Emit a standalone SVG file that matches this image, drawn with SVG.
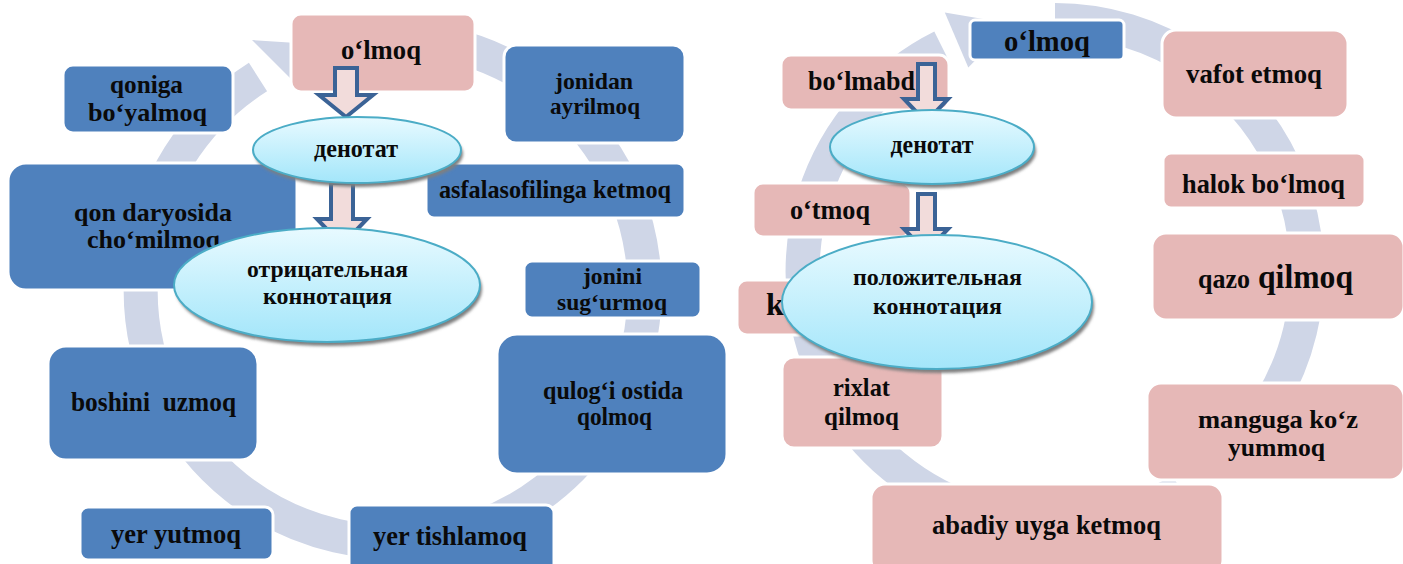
<svg xmlns="http://www.w3.org/2000/svg" width="1403" height="564" viewBox="0 0 1403 564">
<defs>
<style>
.blue{fill:#4F81BD;stroke:#fff;stroke-width:3}
.pink{fill:#E6B8B7;stroke:#fff;stroke-width:3}
.ring{fill:none;stroke:#CFD6E7;stroke-width:34}
.head{fill:#CFD6E7}
text{font-family:'Liberation Serif','DejaVu Serif',serif;font-weight:700;fill:#0a0a0a}
.t{text-anchor:middle}
.ell{fill:url(#eg);stroke:#4BACC6;stroke-width:2}
.shd{fill:#7f7f7f;filter:url(#bl)}
.barrow{fill:#F2DCDB;stroke:#3B6396;stroke-width:4;stroke-linejoin:miter}
</style>
<linearGradient id="eg" x1="0" y1="0" x2="0" y2="1">
<stop offset="0" stop-color="#E8FAFF"/>
<stop offset="1" stop-color="#A3E6FA"/>
</linearGradient>
<filter id="bl" x="-10%" y="-10%" width="120%" height="130%"><feGaussianBlur stdDeviation="1.5"/></filter>
</defs>
<rect width="1403" height="564" fill="#fff"/>

<g id="connectors">
<path class="ring" d="M393,38 A252,252 0 1 1 258,77"/>
<polygon class="head" points="252,40 305,93 328,45"/>
<path class="ring" d="M1055,20 A252,252 0 0 1 1223.6,459.3"/>
<path class="ring" d="M1181,490.2 A252,252 0 1 1 941.9,46.8"/>
<polygon class="head" points="944.8,12.4 968.3,67.6 1011.2,23.8"/>
</g>

<g id="n-olmoq-left"><rect class="pink" x="291" y="14" width="184" height="78" rx="10"/><text class="t" x="381" y="59" font-size="27" textLength="80" lengthAdjust="spacingAndGlyphs">o‘lmoq</text></g>
<g id="n-qoniga"><rect class="blue" x="63" y="65" width="170" height="68" rx="10"/><text class="t" x="146.5" y="93" font-size="25" textLength="73" lengthAdjust="spacingAndGlyphs">qoniga</text><text class="t" x="147.5" y="121" font-size="26" textLength="119" lengthAdjust="spacingAndGlyphs">bo‘yalmoq</text></g>
<g id="n-jonidan"><rect class="blue" x="504" y="45" width="181" height="98" rx="12"/><text class="t" x="594" y="89" font-size="24" textLength="78" lengthAdjust="spacingAndGlyphs">jonidan</text><text class="t" x="595" y="114" font-size="24" textLength="90" lengthAdjust="spacingAndGlyphs">ayrilmoq</text></g>
<g id="n-asfala"><rect class="blue" x="426" y="163" width="259" height="55" rx="8"/><text class="t" x="555" y="198" font-size="26" textLength="232" lengthAdjust="spacingAndGlyphs">asfalasofilinga ketmoq</text></g>
<g id="n-qon"><rect class="blue" x="8" y="163" width="289" height="127" rx="18"/><text class="t" x="153" y="221" font-size="26" textLength="158" lengthAdjust="spacingAndGlyphs">qon daryosida</text><text class="t" x="153.5" y="248" font-size="26" textLength="133" lengthAdjust="spacingAndGlyphs">cho‘milmoq</text></g>
<g id="n-jonini"><rect class="blue" x="524" y="261" width="177" height="57" rx="8"/><text class="t" x="612.5" y="284" font-size="24" textLength="59" lengthAdjust="spacingAndGlyphs">jonini</text><text class="t" x="612" y="310" font-size="24" textLength="110" lengthAdjust="spacingAndGlyphs">sug‘urmoq</text></g>
<g id="n-qulog"><rect class="blue" x="497" y="334" width="230" height="140" rx="20"/><text class="t" x="613" y="399" font-size="25" textLength="140" lengthAdjust="spacingAndGlyphs">qulog‘i ostida</text><text class="t" x="614.5" y="425" font-size="25" textLength="75" lengthAdjust="spacingAndGlyphs">qolmoq</text></g>
<g id="n-boshini"><rect class="blue" x="48" y="346" width="210" height="114" rx="18"/><text class="t" x="153.5" y="411" font-size="27" textLength="165" lengthAdjust="spacingAndGlyphs" xml:space="preserve">boshini  uzmoq</text></g>
<g id="n-yeryutmoq"><rect class="blue" x="80" y="507" width="193" height="53" rx="8"/><text class="t" x="176" y="543" font-size="28" textLength="130" lengthAdjust="spacingAndGlyphs">yer yutmoq</text></g>
<g id="n-yertishlamoq"><rect class="blue" x="349" y="505" width="205" height="70" rx="8"/><text class="t" x="450" y="545" font-size="28" textLength="154" lengthAdjust="spacingAndGlyphs">yer tishlamoq</text></g>

<g id="n-olmoq-right"><rect class="blue" x="970" y="20" width="154" height="40" rx="5"/><text class="t" x="1047" y="51" font-size="30" textLength="86" lengthAdjust="spacingAndGlyphs">o‘lmoq</text></g>
<g id="n-vafot"><rect class="pink" x="1162" y="30" width="186" height="88" rx="14"/><text class="t" x="1254" y="83" font-size="28" textLength="136" lengthAdjust="spacingAndGlyphs">vafot etmoq</text></g>
<g id="n-halok"><rect class="pink" x="1163" y="153" width="202" height="55" rx="8"/><text class="t" x="1263.5" y="193" font-size="28" textLength="163" lengthAdjust="spacingAndGlyphs">halok bo‘lmoq</text></g>
<g id="n-qazo"><rect class="pink" x="1152" y="233" width="252" height="87" rx="14"/><text y="288"><tspan x="1198" font-size="27" textLength="52" lengthAdjust="spacingAndGlyphs">qazo</tspan><tspan x="1258" font-size="33" textLength="95" lengthAdjust="spacingAndGlyphs">qilmoq</tspan></text></g>
<g id="n-manguga"><rect class="pink" x="1147" y="383" width="257" height="97" rx="14"/><text class="t" x="1278" y="428" font-size="26" textLength="160" lengthAdjust="spacingAndGlyphs">manguga ko‘z</text><text class="t" x="1276.5" y="456" font-size="26" textLength="97" lengthAdjust="spacingAndGlyphs">yummoq</text></g>
<g id="n-abadiy"><rect class="pink" x="871" y="484" width="352" height="90" rx="14"/><text class="t" x="1046.5" y="534" font-size="28" textLength="229" lengthAdjust="spacingAndGlyphs">abadiy uyga ketmoq</text></g>
<g id="n-rixlat"><rect class="pink" x="782" y="357" width="161" height="91" rx="12"/><text class="t" x="861.5" y="396" font-size="25" textLength="57" lengthAdjust="spacingAndGlyphs">rixlat</text><text class="t" x="861.5" y="425" font-size="25" textLength="75" lengthAdjust="spacingAndGlyphs">qilmoq</text></g>
<g id="n-k"><rect class="pink" x="737" y="280" width="170" height="55" rx="10"/><text x="766" y="315" font-size="32">k</text></g>
<g id="n-otmoq"><rect class="pink" x="753" y="183" width="158" height="54" rx="10"/><text class="t" x="830" y="219" font-size="28" textLength="80" lengthAdjust="spacingAndGlyphs">o‘tmoq</text></g>
<g id="n-bolmabd"><rect class="pink" x="781" y="55" width="168" height="55" rx="10"/><text x="808" y="90" font-size="28" textLength="107" lengthAdjust="spacingAndGlyphs">bo‘lmabd</text></g>

<g id="arrows">
<path class="barrow" d="M335,68 H357 V95 H373 L346,117 L319,95 H335 Z"/>
<path class="barrow" d="M331,183 H353 V219 H367 L342,245 L317,219 H331 Z"/>
<path class="barrow" d="M918,64 H935 V99 H948 L926,122 L904,99 H918 Z"/>
<path class="barrow" d="M918,194 H935 V229 H948 L926,252 L904,229 H918 Z"/>
</g>

<g id="n-denotat-left"><ellipse class="shd" cx="359" cy="154" rx="104" ry="33"/><ellipse class="ell" cx="357" cy="150" rx="104" ry="33"/><text class="t" x="356" y="157" font-size="25" textLength="84" lengthAdjust="spacingAndGlyphs">денотат</text></g>
<g id="n-otr"><ellipse class="shd" cx="329" cy="289" rx="153" ry="57"/><ellipse class="ell" cx="327" cy="285" rx="153" ry="57"/><text class="t" x="327.5" y="277" font-size="24" textLength="161" lengthAdjust="spacingAndGlyphs">отрицательная</text><text class="t" x="327.5" y="304" font-size="24" textLength="129" lengthAdjust="spacingAndGlyphs">коннотация</text></g>
<g id="n-denotat-right"><ellipse class="shd" cx="934" cy="151" rx="102" ry="37"/><ellipse class="ell" cx="932" cy="147" rx="102" ry="37"/><text class="t" x="932" y="153" font-size="25" textLength="83" lengthAdjust="spacingAndGlyphs">денотат</text></g>
<g id="n-pol"><ellipse class="shd" cx="939" cy="306" rx="155" ry="67"/><ellipse class="ell" cx="937" cy="302" rx="155" ry="67"/><text class="t" x="937.5" y="285" font-size="24" textLength="169" lengthAdjust="spacingAndGlyphs">положительная</text><text class="t" x="937.5" y="314" font-size="24" textLength="129" lengthAdjust="spacingAndGlyphs">коннотация</text></g>
</svg>
